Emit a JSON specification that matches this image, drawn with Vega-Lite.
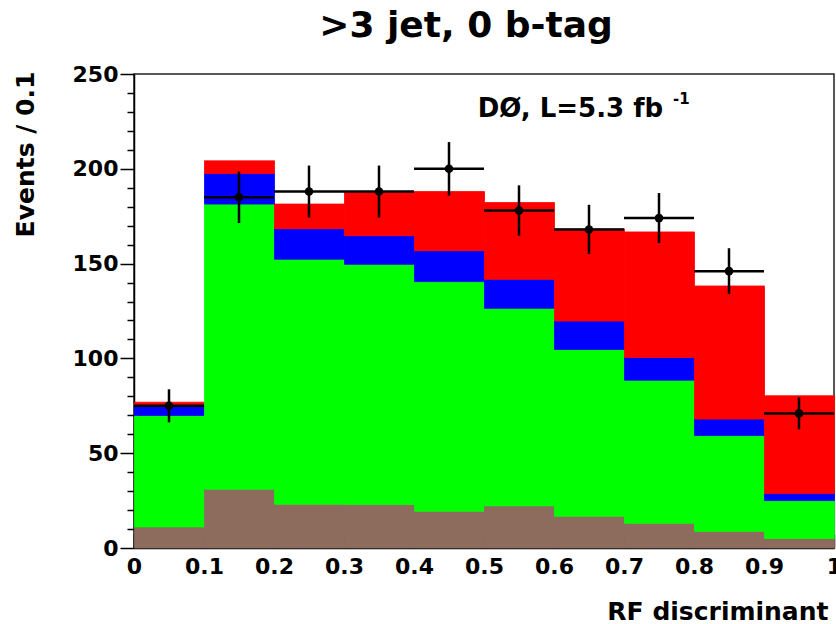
{
  "$schema": "https://vega.github.io/schema/vega-lite/v6.json",
  "width": 700,
  "height": 474,
  "autosize": {"type": "none"},
  "padding": {"left": 134, "top": 74, "right": 2, "bottom": 76},
  "background": "white",
  "title": {
    "text": ">3 jet, 0 b-tag",
    "font": "DejaVu Sans",
    "fontSize": 36,
    "fontWeight": "bold",
    "color": "black",
    "anchor": "middle",
    "frame": "group",
    "dx": -18,
    "baseline": "alphabetic",
    "offset": -10
  },
  "config": {
    "font": "DejaVu Sans",
    "view": {"stroke": "#222", "strokeWidth": 1.5}
  },
  "resolve": {"axis": {"x": "independent", "y": "independent"}},
  "datasets": {
    "mc": [
      {"lo": 0.0, "hi": 0.1, "process": "Multijet", "k": 1, "n": 11.1},
      {"lo": 0.0, "hi": 0.1, "process": "W+jets", "k": 2, "n": 58.8},
      {"lo": 0.0, "hi": 0.1, "process": "Other", "k": 3, "n": 4.9},
      {"lo": 0.0, "hi": 0.1, "process": "ttbar", "k": 4, "n": 2.1},
      {"lo": 0.1, "hi": 0.2, "process": "Multijet", "k": 1, "n": 31.0},
      {"lo": 0.1, "hi": 0.2, "process": "W+jets", "k": 2, "n": 150.4},
      {"lo": 0.1, "hi": 0.2, "process": "Other", "k": 3, "n": 16.1},
      {"lo": 0.1, "hi": 0.2, "process": "ttbar", "k": 4, "n": 6.7},
      {"lo": 0.2, "hi": 0.3, "process": "Multijet", "k": 1, "n": 23.1},
      {"lo": 0.2, "hi": 0.3, "process": "W+jets", "k": 2, "n": 129.2},
      {"lo": 0.2, "hi": 0.3, "process": "Other", "k": 3, "n": 16.1},
      {"lo": 0.2, "hi": 0.3, "process": "ttbar", "k": 4, "n": 13.0},
      {"lo": 0.3, "hi": 0.4, "process": "Multijet", "k": 1, "n": 22.9},
      {"lo": 0.3, "hi": 0.4, "process": "W+jets", "k": 2, "n": 126.7},
      {"lo": 0.3, "hi": 0.4, "process": "Other", "k": 3, "n": 15.1},
      {"lo": 0.3, "hi": 0.4, "process": "ttbar", "k": 4, "n": 23.3},
      {"lo": 0.4, "hi": 0.5, "process": "Multijet", "k": 1, "n": 19.4},
      {"lo": 0.4, "hi": 0.5, "process": "W+jets", "k": 2, "n": 121.1},
      {"lo": 0.4, "hi": 0.5, "process": "Other", "k": 3, "n": 16.3},
      {"lo": 0.4, "hi": 0.5, "process": "ttbar", "k": 4, "n": 31.2},
      {"lo": 0.5, "hi": 0.6, "process": "Multijet", "k": 1, "n": 22.2},
      {"lo": 0.5, "hi": 0.6, "process": "W+jets", "k": 2, "n": 104.2},
      {"lo": 0.5, "hi": 0.6, "process": "Other", "k": 3, "n": 15.3},
      {"lo": 0.5, "hi": 0.6, "process": "ttbar", "k": 4, "n": 40.5},
      {"lo": 0.6, "hi": 0.7, "process": "Multijet", "k": 1, "n": 16.7},
      {"lo": 0.6, "hi": 0.7, "process": "W+jets", "k": 2, "n": 88.0},
      {"lo": 0.6, "hi": 0.7, "process": "Other", "k": 3, "n": 15.0},
      {"lo": 0.6, "hi": 0.7, "process": "ttbar", "k": 4, "n": 48.6},
      {"lo": 0.7, "hi": 0.8, "process": "Multijet", "k": 1, "n": 13.0},
      {"lo": 0.7, "hi": 0.8, "process": "W+jets", "k": 2, "n": 75.5},
      {"lo": 0.7, "hi": 0.8, "process": "Other", "k": 3, "n": 12.0},
      {"lo": 0.7, "hi": 0.8, "process": "ttbar", "k": 4, "n": 66.2},
      {"lo": 0.8, "hi": 0.9, "process": "Multijet", "k": 1, "n": 8.8},
      {"lo": 0.8, "hi": 0.9, "process": "W+jets", "k": 2, "n": 50.5},
      {"lo": 0.8, "hi": 0.9, "process": "Other", "k": 3, "n": 8.7},
      {"lo": 0.8, "hi": 0.9, "process": "ttbar", "k": 4, "n": 70.2},
      {"lo": 0.9, "hi": 1.0, "process": "Multijet", "k": 1, "n": 5.0},
      {"lo": 0.9, "hi": 1.0, "process": "W+jets", "k": 2, "n": 20.0},
      {"lo": 0.9, "hi": 1.0, "process": "Other", "k": 3, "n": 3.7},
      {"lo": 0.9, "hi": 1.0, "process": "ttbar", "k": 4, "n": 51.6}
    ],
    "obs": [
      {"c": 0.05, "lo": 0.0, "hi": 0.1, "n": 75, "elo": 66.3, "ehi": 83.7},
      {"c": 0.15, "lo": 0.1, "hi": 0.2, "n": 185, "elo": 171.4, "ehi": 198.6},
      {"c": 0.25, "lo": 0.2, "hi": 0.3, "n": 188, "elo": 174.3, "ehi": 201.7},
      {"c": 0.35, "lo": 0.3, "hi": 0.4, "n": 188, "elo": 174.3, "ehi": 201.7},
      {"c": 0.45, "lo": 0.4, "hi": 0.5, "n": 200, "elo": 185.9, "ehi": 214.1},
      {"c": 0.55, "lo": 0.5, "hi": 0.6, "n": 178, "elo": 164.7, "ehi": 191.3},
      {"c": 0.65, "lo": 0.6, "hi": 0.7, "n": 168, "elo": 155.0, "ehi": 181.0},
      {"c": 0.75, "lo": 0.7, "hi": 0.8, "n": 174, "elo": 160.8, "ehi": 187.2},
      {"c": 0.85, "lo": 0.8, "hi": 0.9, "n": 146, "elo": 133.9, "ehi": 158.1},
      {"c": 0.95, "lo": 0.9, "hi": 1.0, "n": 71, "elo": 62.6, "ehi": 79.4}
    ]
  },
  "layer": [
    {
      "data": {"name": "mc"},
      "mark": {"type": "bar", "strokeWidth": 0.8, "binSpacing": 0},
      "encoding": {
        "x": {
          "field": "lo",
          "type": "quantitative",
          "bin": {"binned": true, "step": 0.1},
          "scale": {"domain": [0, 1], "nice": false},
          "axis": {
            "values": [0,0.02,0.04,0.06,0.08,0.1,0.12,0.14,0.16,0.18,0.2,0.22,0.24,0.26,0.28,0.3,0.32,0.34,0.36,0.38,0.4,0.42,0.44,0.46,0.48,0.5,0.52,0.54,0.56,0.58,0.6,0.62,0.64,0.66,0.68,0.7,0.72,0.74,0.76,0.78,0.8,0.82,0.84,0.86,0.88,0.9,0.92,0.94,0.96,0.98,1],
            "labelExpr": "abs(datum.value*10 - round(datum.value*10)) < 0.001 ? format(datum.value, '.1~f') : ''",
            "tickSize": {"expr": "abs(datum.value*10 - round(datum.value*10)) < 0.001 ? -14 : -7"},
            "labelPadding": 22,
            "labelFont": "DejaVu Sans",
            "labelFontWeight": "bold",
            "labelFontSize": 22,
            "labelColor": "black",
            "labelFlush": false,
            "labelOverlap": false,
            "labelBaseline": "top",
            "tickColor": "black",
            "tickWidth": 1.5,
            "domainColor": "black",
            "domainWidth": 1.5,
            "grid": false,
            "title": "RF discriminant",
            "titleFont": "DejaVu Sans",
            "titleFontWeight": "bold",
            "titleFontSize": 25,
            "titleColor": "black",
            "titleAlign": "right",
            "titleAnchor": "end",
            "titleBaseline": "alphabetic",
            "titleX": 694,
            "titleY": 71
          }
        },
        "x2": {"field": "hi"},
        "y": {
          "field": "n",
          "type": "quantitative",
          "stack": "zero",
          "scale": {"domain": [0, 250], "nice": false},
          "axis": {
            "values": [0,10,20,30,40,50,60,70,80,90,100,110,120,130,140,150,160,170,180,190,200,210,220,230,240,250],
            "labelExpr": "datum.value % 50 === 0 ? datum.label : ''",
            "tickSize": {"expr": "datum.value % 50 === 0 ? 14 : 7"},
            "labelPadding": 2,
            "labelFont": "DejaVu Sans",
            "labelFontWeight": "bold",
            "labelFontSize": 22,
            "labelColor": "black",
            "labelOverlap": false,
            "labelFlush": false,
            "tickColor": "black",
            "tickWidth": 1.5,
            "domainColor": "black",
            "domainWidth": 1.5,
            "grid": false,
            "title": "Events / 0.1",
            "titleFont": "DejaVu Sans",
            "titleFontWeight": "bold",
            "titleFontSize": 25,
            "titleColor": "black",
            "titleAngle": 270,
            "titleAlign": "center",
            "titleBaseline": "middle",
            "titleX": -109,
            "titleY": 80
          }
        },
        "color": {
          "field": "process",
          "type": "nominal",
          "scale": {"domain": ["Multijet", "W+jets", "Other", "ttbar"], "range": ["#8d6b5d", "#00ff00", "#0000ff", "#ff0000"]},
          "legend": null
        },
        "stroke": {
          "field": "process",
          "type": "nominal",
          "scale": {"domain": ["Multijet", "W+jets", "Other", "ttbar"], "range": ["#8d6b5d", "#00ff00", "#0000ff", "#ff0000"]},
          "legend": null
        },
        "order": {"field": "k", "type": "quantitative", "sort": "ascending"}
      }
    },
    {
      "data": {"name": "obs"},
      "mark": {"type": "rule", "color": "black", "strokeWidth": 2.5},
      "encoding": {
        "x": {"field": "lo", "type": "quantitative", "axis": null},
        "x2": {"field": "hi"},
        "y": {"field": "n", "type": "quantitative", "axis": null}
      }
    },
    {
      "data": {"name": "obs"},
      "mark": {"type": "rule", "color": "black", "strokeWidth": 2.5},
      "encoding": {
        "x": {"field": "c", "type": "quantitative", "axis": null},
        "y": {"field": "elo", "type": "quantitative", "axis": null},
        "y2": {"field": "ehi"}
      }
    },
    {
      "data": {"name": "obs"},
      "mark": {"type": "point", "shape": "circle", "filled": true, "color": "black", "opacity": 1, "size": 75},
      "encoding": {
        "x": {"field": "c", "type": "quantitative", "axis": null},
        "y": {"field": "n", "type": "quantitative", "axis": null}
      }
    },
    {
      "data": {"values": [{"x": 0.491, "y": 227.4, "t": "DØ, L=5.3 fb"}]},
      "mark": {"type": "text", "font": "DejaVu Sans", "fontWeight": "bold", "fontSize": 26, "align": "left", "baseline": "alphabetic", "color": "black"},
      "encoding": {
        "x": {"field": "x", "type": "quantitative", "axis": null},
        "y": {"field": "y", "type": "quantitative", "axis": null},
        "text": {"field": "t"}
      }
    },
    {
      "data": {"values": [{"x": 0.77, "y": 234.4, "t": "-1"}]},
      "mark": {"type": "text", "font": "DejaVu Sans", "fontWeight": "bold", "fontSize": 15, "align": "left", "baseline": "alphabetic", "color": "black"},
      "encoding": {
        "x": {"field": "x", "type": "quantitative", "axis": null},
        "y": {"field": "y", "type": "quantitative", "axis": null},
        "text": {"field": "t"}
      }
    }
  ]
}
